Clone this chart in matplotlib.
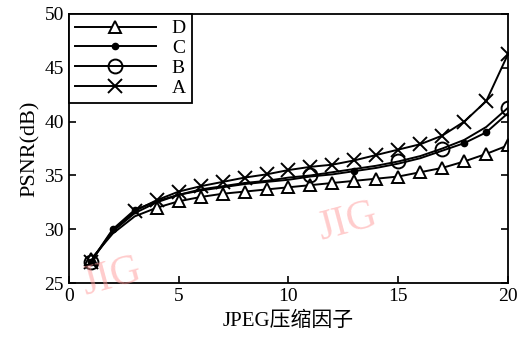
import matplotlib
matplotlib.use("Agg")
import numpy as np
from matplotlib import pyplot as plt

plt.rcParams['font.family'] = ['Liberation Serif', 'Noto Sans CJK SC']

# JPEG compression factor
x = np.arange(1, 21)

# PSNR (dB)
psnr_a = [27.0, 29.9, 31.7, 32.7, 33.5, 34.0, 34.4, 34.8, 35.1, 35.5,
          35.8, 36.0, 36.4, 36.9, 37.4, 37.9, 38.7, 40.0, 41.9, 46.3]
psnr_b = [27.0, 29.8, 31.5, 32.5, 33.2, 33.7, 34.0, 34.3, 34.5, 34.8,
          35.0, 35.3, 35.6, 35.9, 36.3, 36.8, 37.5, 38.3, 39.5, 41.3]
psnr_c = [27.0, 30.0, 31.8, 32.6, 33.2, 33.6, 33.9, 34.2, 34.4, 34.6,
          34.9, 35.1, 35.4, 35.7, 36.1, 36.6, 37.3, 38.0, 39.0, 40.8]
psnr_d = [27.2, 29.6, 31.2, 32.0, 32.6, 33.0, 33.3, 33.5, 33.7, 33.9,
          34.1, 34.3, 34.5, 34.7, 34.9, 35.3, 35.7, 36.3, 37.0, 37.8]

marks_a = [0] + list(range(2, 20))
marks_b = [0, 10, 14, 16, 19]
marks_c = [0, 1, 2, 12, 17, 18]
marks_d = [0] + list(range(3, 20))

fig = plt.figure(figsize=(5.25, 3.47), dpi=100)
ax = fig.add_axes([0.131, 0.184, 0.837, 0.776])

ax.plot(x, psnr_d, color='k', lw=1.4, marker='^', ms=9, mfc='white', mew=1.4,
        markevery=marks_d, label='D')
ax.plot(x, psnr_c, color='k', lw=1.4, marker='o', ms=4.5, mfc='k',
        markevery=marks_c, label='C')
ax.plot(x, psnr_b, color='k', lw=1.4, marker='o', ms=10, mfc='none', mew=1.4,
        markevery=marks_b, label='B')
ax.plot(x, psnr_a, color='k', lw=1.4, marker='x', ms=10, mew=1.4,
        markevery=marks_a, label='A')

ax.set_xlim(0, 20)
ax.set_ylim(25, 50)
ax.set_xticks([0, 5, 10, 15, 20])
ax.set_yticks([25, 30, 35, 40, 45, 50])
ax.tick_params(direction='in', length=5, width=1.2, labelsize=14, right=True)
for s in ax.spines.values():
    s.set_linewidth(1.3)

ax.set_xlabel('JPEG压缩因子', fontsize=15, labelpad=5)
ax.set_ylabel('PSNR(dB)', fontsize=16, labelpad=3)

leg = ax.legend(loc='upper left', fontsize=14, handlelength=4.2,
                handletextpad=0.8, borderaxespad=0, fancybox=False,
                edgecolor='k', labelspacing=0.12, borderpad=0.3,
                framealpha=1)
leg.get_frame().set_linewidth(1.3)

# watermarks
for wx, wy in [(0.213, 0.20), (0.661, 0.36)]:
    fig.text(wx, wy, 'JIG', fontsize=30, color='#ff9999', alpha=0.5,
             rotation=15, ha='center', va='center')

fig.savefig('out.png', dpi=100)
